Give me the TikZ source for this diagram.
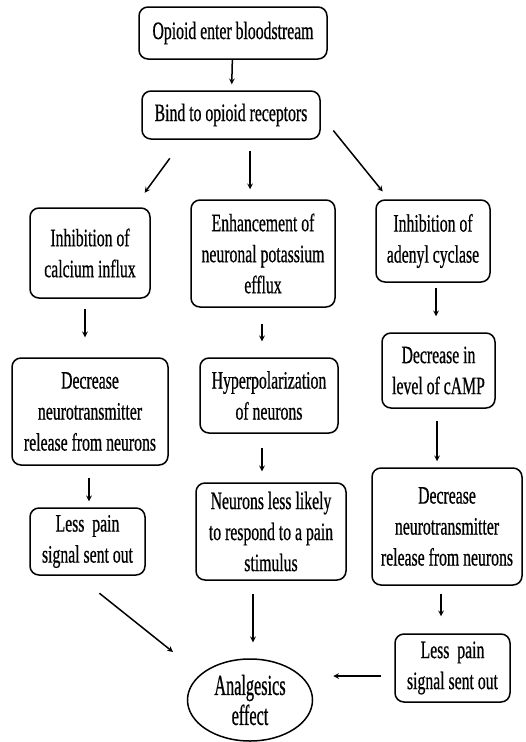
\documentclass[tikz,border=0pt]{standalone}
\usepackage{fontspec}
\setmainfont[FakeStretch=0.63, FakeBold=0.6]{Liberation Serif}
\newfontfamily\ovalfont[FakeStretch=0.56, FakeBold=0.6]{Liberation Serif}
\usetikzlibrary{shapes.geometric, arrows.meta}

\begin{document}
\begin{tikzpicture}[x=1pt, y=-1pt, line width=1.5pt,
        box/.style={draw, rounded corners=9pt, align=center, inner sep=0pt,
            font=\fontsize{25}{31}\selectfont},
        oval/.style={draw, ellipse, align=center, inner sep=0pt,
            font=\ovalfont\fontsize{29}{30}\selectfont}]
        \useasboundingbox (0,0) rectangle (526,742);
        % top of the chain
        \node[box, minimum width=188, minimum height=52] (op) at (233,33) {Opioid enter bloodstream};
        \node[box, minimum width=178, minimum height=48] (bind) at (231,115) {Bind to opioid receptors};
        % three branches
        \node[box, minimum width=120, minimum height=90] (ca) at (90,253) {Inhibition of\\calcium influx};
        \node[box, minimum width=144, minimum height=107] (k) at (263,253.5) {Enhancement of\\neuronal potassium\\efflux};
        \node[box, minimum width=114, minimum height=82] (ac) at (433,241) {Inhibition of\\adenyl cyclase};
        \node[box, minimum width=156, minimum height=107] (decl) at (90,411.5) {Decrease\\neurotransmitter\\release from neurons};
        \node[box, minimum width=138, minimum height=75] (hyp) at (269,395.5) {Hyperpolarization\\of neurons};
        \node[box, minimum width=113, minimum height=75] (camp) at (438.5,370.5) {Decrease in\\level of cAMP};
        \node[box, minimum width=115, minimum height=67] (lessl) at (87.5,541.5) {Less\ \ pain\\signal sent out};
        \node[box, minimum width=150, minimum height=97] (lik) at (271,531.5) {Neurons less likely\\to respond to a pain\\stimulus};
        \node[box, minimum width=150, minimum height=117] (decr) at (447,526.5) {Decrease\\neurotransmitter\\release from neurons};
        \node[box, minimum width=115, minimum height=68] (lessr) at (452.5,668) {Less\ \ pain\\signal sent out};
        % outcome
        \node[oval, minimum width=125, minimum height=82] (ana) at (250,700) {Analgesics\\effect};

        \path[-stealth]
        (op) edge[shorten >=6pt] (bind)
        ([xshift=-47.6pt]bind.south) edge[shorten <=23pt, shorten >=18pt] ([xshift=44pt]ca.north)
        ([xshift=19pt]bind.south) edge[shorten <=11pt, shorten >=10pt] ([xshift=-13pt]k.north)
        (bind.east) edge[shorten <=20pt, shorten >=10pt] ([xshift=-44pt]ac.north)
        ([xshift=-5pt]ca.south) edge[shorten <=10pt, shorten >=20pt] ([xshift=-5pt]decl.north)
        ([xshift=-1pt]k.south) edge[shorten <=16pt, shorten >=16pt] ([xshift=-7pt]hyp.north)
        ([xshift=3pt]ac.south) edge[shorten <=5pt, shorten >=16pt] ([xshift=-2.5pt]camp.north)
        ([xshift=-1pt]decl.south) edge[shorten <=12pt, shorten >=6pt] ([xshift=1.5pt]lessl.north)
        ([xshift=-7pt]hyp.south) edge[shorten <=14pt, shorten >=11pt] ([xshift=-9pt]lik.north)
        ([xshift=-1.5pt]camp.south) edge[shorten <=12pt, shorten >=6pt] ([xshift=-10pt]decr.north)
        ([xshift=-6pt]decr.south) edge[shorten <=8pt, shorten >=17pt] ([xshift=-11.5pt]lessr.north)
        ([xshift=-10pt]lessl.south) edge[shorten <=28pt] ([shift={(-77,-48)}]ana.center)
        ([xshift=-18pt]lik.south) edge[shorten <=13pt, shorten >=16pt] ([xshift=3pt]ana.north)
        ([yshift=-8pt]lessr.west) edge[shorten <=13pt, shorten >=20pt] ([yshift=24pt]ana.east);
\end{tikzpicture}
\end{document}
